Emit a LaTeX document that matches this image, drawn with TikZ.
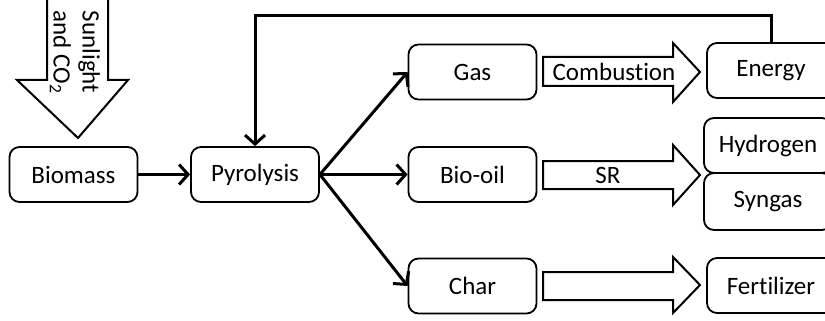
\documentclass[tikz,border=0pt]{standalone}
\usepackage{fontspec}
\setmainfont{Carlito}[Ligatures=NoCommon]
\usetikzlibrary{arrows.meta}
\begin{document}
\begin{tikzpicture}[x=1pt,y=-1pt,
  box/.style={draw, line width=1.8pt, rounded corners=10pt, minimum width=128pt, minimum height=55pt, inner sep=0pt, font=\fontsize{25}{29}\selectfont},
  conn/.style={line width=3pt, -{Straight Barb[length=9pt,width=20pt,line width=3pt]}},
  blockarrow/.style={draw, line width=2pt, fill=white, line join=miter},
  lbl/.style={font=\fontsize{25}{29}\selectfont, inner sep=0pt}]
\useasboundingbox (0,0) rectangle (825,321);
\clip (0,0) rectangle (825,321);

% nodes
\node[box] (bio) at (73.5,174.5) {Biomass};
\node[box] (pyr) at (255,174.5) {Pyrolysis};
\node[box] (gas) at (472.5,72) {Gas};
\node[box] (oil) at (472.5,174.5) {Bio-oil};
\node[box] (char) at (472.5,286) {Char};
\node[box] (en) at (771,70.5) {Energy};
\node[box] (hy) at (768,145.5) {Hydrogen};
\node[box, minimum height=57pt] (sy) at (768,201.5) {Syngas};
\node[box] (fe) at (771,285.5) {Fertilizer};

% sunlight arrow
\draw[blockarrow] (47,-3) -- (108,-3) -- (108,80) -- (128,80) -- (78,138) -- (17,80) -- (47,80) -- cycle;
\node[lbl, rotate=-90, align=center] (sun) at (75,52) {Sunlight\\and CO\textsubscript{2}};

% block arrows
\draw[blockarrow] (543,57) -- (673,57) -- (673,43) -- (700,72) -- (673,102) -- (673,86) -- (543,86) -- cycle;
\node[lbl] (comb) at (614,72) {Combustion};
\draw[blockarrow] (543,161) -- (673,161) -- (673,145) -- (700,175) -- (673,205) -- (673,189) -- (543,189) -- cycle;
\node[lbl] (sr) at (608,175) {SR};
\draw[blockarrow] (543,272) -- (673,272) -- (673,257) -- (700,285) -- (673,313) -- (673,300) -- (543,300) -- cycle;

% connectors
\draw[conn] (bio) -- (pyr);
\draw[conn] (pyr.east) -- (gas.west);
\draw[conn] (pyr.east) -- (oil.west);
\draw[conn] (pyr.east) -- (char.west);
\draw[conn] (en.north) -- ++(0,-27) -| (pyr.north);
\end{tikzpicture}
\end{document}
